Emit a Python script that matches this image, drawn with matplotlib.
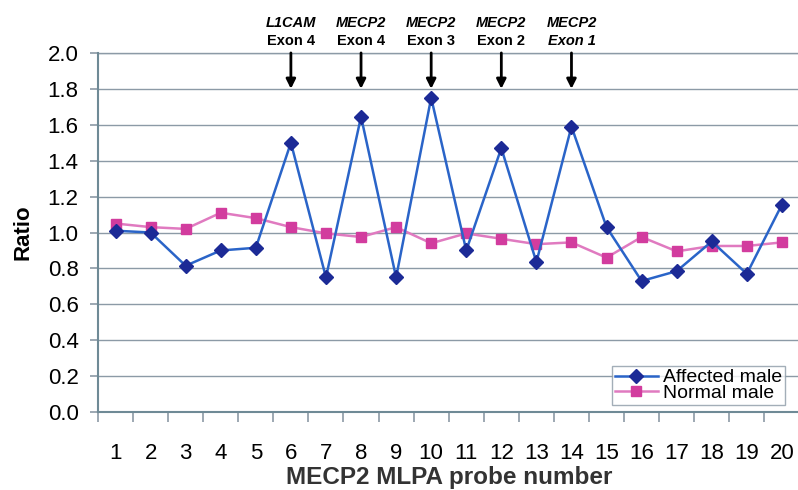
import matplotlib
matplotlib.use("Agg")
import matplotlib.pyplot as plt
import numpy as np

plt.rcParams['font.family'] = ['Liberation Sans', 'DejaVu Sans']

# data
probes = list(range(1, 21))
affected = [1.01, 1.00, 0.815, 0.90, 0.915, 1.50, 0.75, 1.645, 0.75, 1.75,
            0.90, 1.47, 0.835, 1.59, 1.03, 0.73, 0.785, 0.95, 0.77, 1.155]
normal = [1.05, 1.03, 1.02, 1.11, 1.08, 1.03, 0.995, 0.975, 1.03, 0.94,
          0.995, 0.965, 0.935, 0.945, 0.86, 0.975, 0.895, 0.925, 0.925, 0.945]
marked = [6, 8, 10, 12, 14]
marked_gene = ['L1CAM', 'MECP2', 'MECP2', 'MECP2', 'MECP2']
marked_exon = ['Exon 4', 'Exon 4', 'Exon 3', 'Exon 2', 'Exon 1']

fig = plt.figure(figsize=(7.98, 4.9), dpi=100)
ax = fig.add_axes([0.1228, 0.159, 0.879, 0.733])

grid_c = '#8c9aa6'
ax.set_ylim(0, 2.0)
ax.set_xlim(0.5, 20.5)
ax.set_yticks(np.arange(0, 2.01, 0.2))
ax.set_yticklabels(['%.1f' % v for v in np.arange(0, 2.01, 0.2)])
for v in np.arange(0.2, 2.01, 0.2):
    ax.axhline(v, color=grid_c, lw=1.0, zorder=0)

ax.plot(probes, affected, color='#2a64c8', lw=1.8, marker='D', ms=7,
        mfc='#1c2a96', mec='#1c2a96', label='Affected male', zorder=3)
ax.plot(probes, normal, color='#e07ac0', lw=1.8, marker='s', ms=7,
        mfc='#d23c9e', mec='#d23c9e', label='Normal male', zorder=2)

# x axis: labels at centres, ticks at category borders
ax.set_xticks(probes)
ax.set_xticklabels([str(p) for p in probes])
ax.set_xticks(np.arange(0.5, 21, 1), minor=True)
ax.tick_params(axis='x', which='major', length=0, pad=22, labelsize=16)
ax.tick_params(axis='x', which='minor', length=7, color=grid_c, width=1.2)
ax.tick_params(axis='y', length=6, color=grid_c, width=1.2, pad=8, labelsize=16)

for s in ['top', 'right']:
    ax.spines[s].set_visible(False)
ax.spines['left'].set_color('#6f8a96')
ax.spines['bottom'].set_color('#6f8a96')
ax.spines['left'].set_linewidth(1.5)
ax.spines['bottom'].set_linewidth(1.5)
ax.axhline(2.0, color=grid_c, lw=1.0, zorder=0, clip_on=False)

ax.set_xlabel('MECP2 MLPA probe number', fontsize=17.5, fontweight='bold',
              color='#333333', labelpad=2)
ax.set_ylabel('Ratio', fontsize=16, fontweight='bold', labelpad=10)

# arrows and exon labels
for i, (p, g, e) in enumerate(zip(marked, marked_gene, marked_exon)):
    ax.annotate('', xy=(p, 1.8), xytext=(p, 2.0),
                arrowprops=dict(arrowstyle='-|>', color='black', lw=2,
                                mutation_scale=14, shrinkA=0, shrinkB=0),
                annotation_clip=False)
    ax.text(p, 2.125, g, ha='center', va='bottom', fontsize=10.5,
            fontweight='bold', style='italic')
    ax.text(p, 2.03, e, ha='center', va='bottom', fontsize=10.5,
            fontweight='bold', style='italic' if i == 4 else 'normal')

leg = ax.legend(loc='lower right', bbox_to_anchor=(0.98, 0.02), fontsize=14,
                frameon=True, fancybox=False, edgecolor='#8c9aa6',
                borderpad=0.15, labelspacing=-0.1, handlelength=2.2,
                handletextpad=0.3, borderaxespad=0.0)
leg.get_frame().set_linewidth(1.0)

fig.savefig('out.png', dpi=100)
